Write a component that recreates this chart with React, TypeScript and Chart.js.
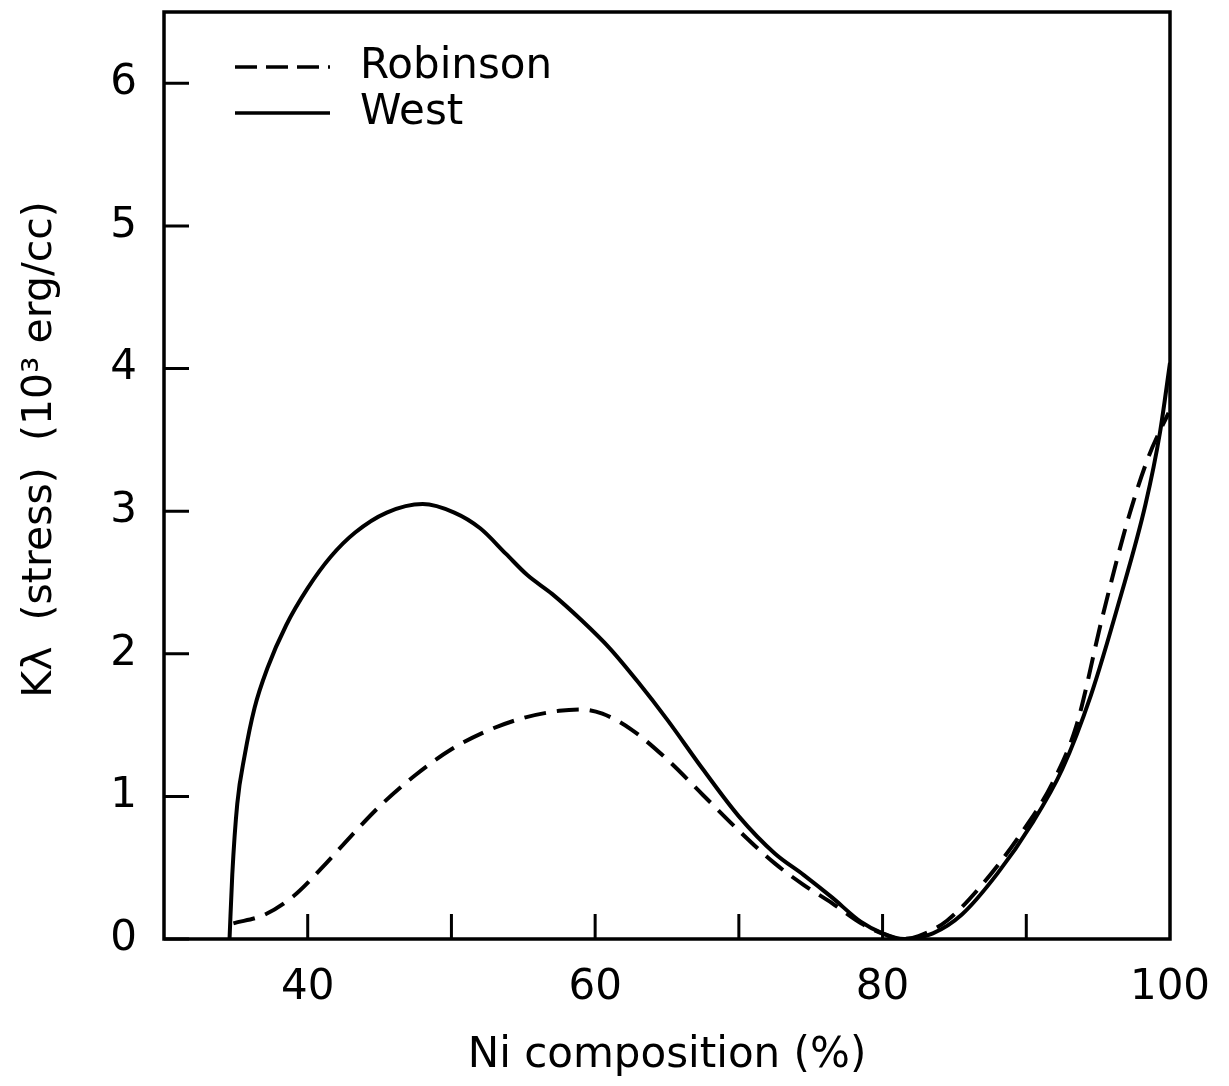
import { useEffect, useRef } from 'react';
import { Chart, registerables } from 'chart.js';

Chart.register(...registerables);

// Ni composition (%) and K_lambda (10^3 erg/cc)
const westX = [34.56, 34.75, 35.1, 35.6, 36.3, 37.2, 38.5, 40.0, 41.6, 43.3, 45.5, 48.0, 50.2, 52.0, 53.8, 55.3, 57.0, 59.0, 61.0, 63.0, 65.0, 67.5, 70.0, 72.5, 74.5, 76.5, 78.5, 80.0, 81.5, 83.5, 85.5, 88.0, 90.4, 92.5, 94.5, 96.5, 98.3, 99.3, 100];
const westY = [0, 0.45, 0.95, 1.28, 1.62, 1.9, 2.2, 2.46, 2.68, 2.85, 2.99, 3.05, 2.99, 2.88, 2.7, 2.55, 2.42, 2.24, 2.04, 1.8, 1.54, 1.19, 0.86, 0.6, 0.45, 0.29, 0.12, 0.04, 0.0, 0.04, 0.17, 0.46, 0.81, 1.19, 1.71, 2.38, 3.05, 3.55, 4.04];

const robinsonX = [34.83, 37.0, 39.0, 41.0, 43.0, 45.0, 47.5, 50.0, 52.5, 55.0, 57.5, 59.0, 60.5, 62.5, 65.0, 67.5, 70.0, 72.5, 74.5, 76.5, 78.5, 80.2, 81.3, 82.5, 84.5, 87.0, 89.5, 91.8, 93.5, 95.3, 97.1, 98.5, 99.9];
const robinsonY = [0.11, 0.17, 0.3, 0.5, 0.72, 0.93, 1.15, 1.33, 1.46, 1.55, 1.6, 1.61, 1.58, 1.47, 1.26, 1.01, 0.76, 0.53, 0.38, 0.25, 0.11, 0.03, 0.0, 0.02, 0.13, 0.39, 0.72, 1.09, 1.5, 2.26, 2.95, 3.38, 3.69];

const seriesNames = ['Robinson', 'West'];
const xTickLabels = [40, 60, 80, 100];
const xTickMarks = [40, 50, 60, 70, 80, 90];
const yTickMarks = [0, 1, 2, 3, 4, 5, 6];
const xTitle = 'Ni composition (%)';
const yTitle = '    K\u03BB  (stress)  (10\u00B3 erg/cc)';

const FONT = "'DejaVu Sans', sans-serif";

export default function App() {
  const ref = useRef<HTMLCanvasElement>(null);

  useEffect(() => {
    if (!ref.current) return;

    const framePlugin = {
      id: 'frameTicks',
      afterDraw(chart: any) {
        const { ctx, chartArea } = chart;
        const xs = chart.scales.x;
        const ys = chart.scales.y;
        ctx.save();
        ctx.strokeStyle = '#000';
        ctx.lineWidth = 3.5;
        ctx.setLineDash([]);
        ctx.strokeRect(chartArea.left, chartArea.top, chartArea.right - chartArea.left, chartArea.bottom - chartArea.top);
        ctx.lineWidth = 3;
        ctx.beginPath();
        xTickMarks.forEach((v) => {
          const px = xs.getPixelForValue(v);
          ctx.moveTo(px, chartArea.bottom);
          ctx.lineTo(px, chartArea.bottom - 25);
        });
        yTickMarks.forEach((v) => {
          const py = ys.getPixelForValue(v);
          ctx.moveTo(chartArea.left, py);
          ctx.lineTo(chartArea.left + 25, py);
        });
        ctx.stroke();

        // legend
        chart.data.datasets.forEach((ds: any, i: number) => {
          const y = chartArea.top + 55 + i * 46;
          const x0 = chartArea.left + 71;
          ctx.beginPath();
          ctx.lineWidth = 3.5;
          ctx.setLineDash(ds.borderDash && ds.borderDash.length ? [22, 9] : []);
          ctx.moveTo(x0, y);
          ctx.lineTo(x0 + 95, y);
          ctx.stroke();
          ctx.setLineDash([]);
          ctx.fillStyle = '#000';
          ctx.font = `42px ${FONT}`;
          ctx.textBaseline = 'middle';
          ctx.textAlign = 'left';
          ctx.fillText(ds.label, chartArea.left + 196, y);
        });
        ctx.restore();
      },
    };

    const chart = new Chart(ref.current, {
      type: 'line',
      data: {
        datasets: [
          {
            label: seriesNames[0],
            data: robinsonX.map((x, i) => ({ x, y: robinsonY[i] })),
            borderColor: '#000',
            borderWidth: 4,
            borderDash: [22, 11],
            pointRadius: 0,
            fill: false,
            cubicInterpolationMode: 'monotone',
          },
          {
            label: seriesNames[1],
            data: westX.map((x, i) => ({ x, y: westY[i] })),
            borderColor: '#000',
            borderWidth: 4,
            pointRadius: 0,
            fill: false,
            cubicInterpolationMode: 'monotone',
          },
        ],
      },
      options: {
        animation: false,
        responsive: false,
        maintainAspectRatio: false,
        layout: { padding: { left: 0, right: 59, top: 12, bottom: 0 } },
        plugins: { legend: { display: false }, tooltip: { enabled: false } },
        scales: {
          x: {
            type: 'linear',
            min: 30,
            max: 100,
            afterFit: (s: any) => { s.height = 147; s.paddingLeft = 0; s.paddingRight = 0; },
            grid: { display: false, drawTicks: false },
            border: { display: false },
            ticks: {
              stepSize: 10,
              autoSkip: false,
              maxRotation: 0,
              padding: 24,
              color: '#000',
              font: { family: FONT, size: 42 },
              callback: (v: any) => (xTickLabels.includes(Number(v)) ? String(v) : ''),
            },
            title: {
              display: true,
              text: xTitle,
              color: '#000',
              font: { family: FONT, size: 42 },
              padding: { top: 0, bottom: 5 },
            },
          },
          y: {
            type: 'linear',
            min: 0,
            max: 6.5,
            afterFit: (s: any) => { s.width = 164; s.paddingTop = 0; s.paddingBottom = 0; },
            grid: { display: false, drawTicks: false },
            border: { display: false },
            ticks: {
              stepSize: 1,
              includeBounds: false,
              padding: 27,
              color: '#000',
              font: { family: FONT, size: 42 },
              callback: (v: any) => (yTickMarks.includes(Number(v)) ? String(v) : ''),
            },
            title: {
              display: true,
              text: yTitle,
              color: '#000',
              font: { family: FONT, size: 41 },
              padding: { top: 16, bottom: 0 },
            },
          },
        },
      } as any,
      plugins: [framePlugin],
    });

    return () => chart.destroy();
  }, []);

  return (
    <div style={{ position: 'absolute', left: 0, top: 0, width: 1229, height: 1086, background: '#fff' }}>
      <canvas ref={ref} width={1229} height={1086} style={{ display: 'block' }} />
    </div>
  );
}
